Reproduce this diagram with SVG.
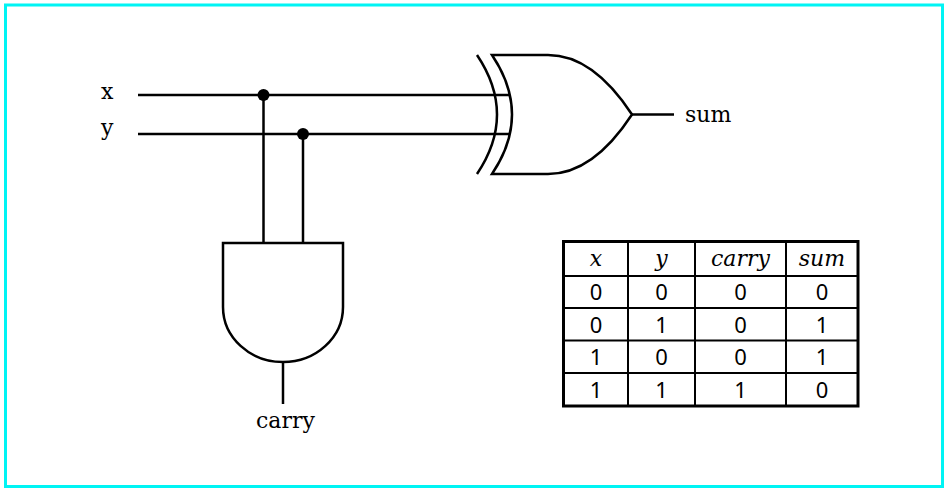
<svg xmlns="http://www.w3.org/2000/svg" width="944" height="488" viewBox="0 0 944 488">
<style>
.w{fill:none;stroke:#000;stroke-width:2.5}
.g{fill:#fff;stroke:#000;stroke-width:2.5}
.lbl{font-family:"DejaVu Serif",serif;font-size:22px;fill:#000}
.hd{font-family:"DejaVu Serif",serif;font-size:22px;font-style:italic;fill:#000}
.dg{font-family:"Noto Sans",sans-serif;font-size:22px;fill:#000}
.tl{stroke:#000;stroke-width:2}
</style>
<rect x="0" y="0" width="944" height="488" fill="#fff"/>
<rect x="5.5" y="5" width="937" height="481.5" fill="none" stroke="#00f4f4" stroke-width="3"/>
<g id="connectors">
<line class="w" x1="138" y1="95" x2="510" y2="95"/>
<line class="w" x1="138" y1="134" x2="510" y2="134"/>
<line class="w" x1="263.5" y1="95" x2="263.5" y2="243"/>
<line class="w" x1="303" y1="134" x2="303" y2="243"/>
<line class="w" x1="632" y1="114.5" x2="674" y2="114.5"/>
<line class="w" x1="283" y1="362" x2="283" y2="404"/>
<circle cx="263.5" cy="95" r="6" fill="#000"/>
<circle cx="303" cy="134" r="6" fill="#000"/>
</g>
<g id="label-x"><text class="lbl" x="101" y="99">x</text></g>
<g id="label-y"><text class="lbl" x="101" y="135">y</text></g>
<g id="xor-gate">
<path class="w" d="M477,55 Q517,114.5 477,174"/>
<path class="w" d="M492,55 H548 C585,55 612,84 632,114.5 C612,145 585,174 548,174 H492 Q532,114.5 492,55 Z"/>
</g>
<g id="label-sum"><text class="lbl" x="685" y="122">sum</text></g>
<g id="and-gate">
<path class="g" d="M223,243 H343 V307 A60,55 0 0 1 223,307 Z"/>
</g>
<g id="label-carry"><text class="lbl" x="285.5" y="428" text-anchor="middle">carry</text></g>
<g id="truth-table">
<line class="tl" x1="563.5" y1="276" x2="858" y2="276"/>
<line class="tl" x1="563.5" y1="308" x2="858" y2="308"/>
<line class="tl" x1="563.5" y1="340.5" x2="858" y2="340.5"/>
<line class="tl" x1="563.5" y1="373" x2="858" y2="373"/>
<line class="tl" x1="628" y1="241.5" x2="628" y2="406"/>
<line class="tl" x1="695" y1="241.5" x2="695" y2="406"/>
<line class="tl" x1="786" y1="241.5" x2="786" y2="406"/>
<rect x="563.5" y="241.5" width="294.5" height="164.5" fill="none" stroke="#000" stroke-width="3"/>
<g text-anchor="middle">
<text class="hd" x="596" y="266">x</text>
<text class="hd" x="661.5" y="266">y</text>
<text class="hd" x="740.5" y="266">carry</text>
<text class="hd" x="822" y="266">sum</text>
<text class="dg" x="596" y="300">0</text><text class="dg" x="661.5" y="300">0</text><text class="dg" x="740.5" y="300">0</text><text class="dg" x="822" y="300">0</text>
<text class="dg" x="596" y="332.5">0</text><text class="dg" x="661.5" y="332.5">1</text><text class="dg" x="740.5" y="332.5">0</text><text class="dg" x="822" y="332.5">1</text>
<text class="dg" x="596" y="365">1</text><text class="dg" x="661.5" y="365">0</text><text class="dg" x="740.5" y="365">0</text><text class="dg" x="822" y="365">1</text>
<text class="dg" x="596" y="397.5">1</text><text class="dg" x="661.5" y="397.5">1</text><text class="dg" x="740.5" y="397.5">1</text><text class="dg" x="822" y="397.5">0</text>
</g>
</g>
</svg>
